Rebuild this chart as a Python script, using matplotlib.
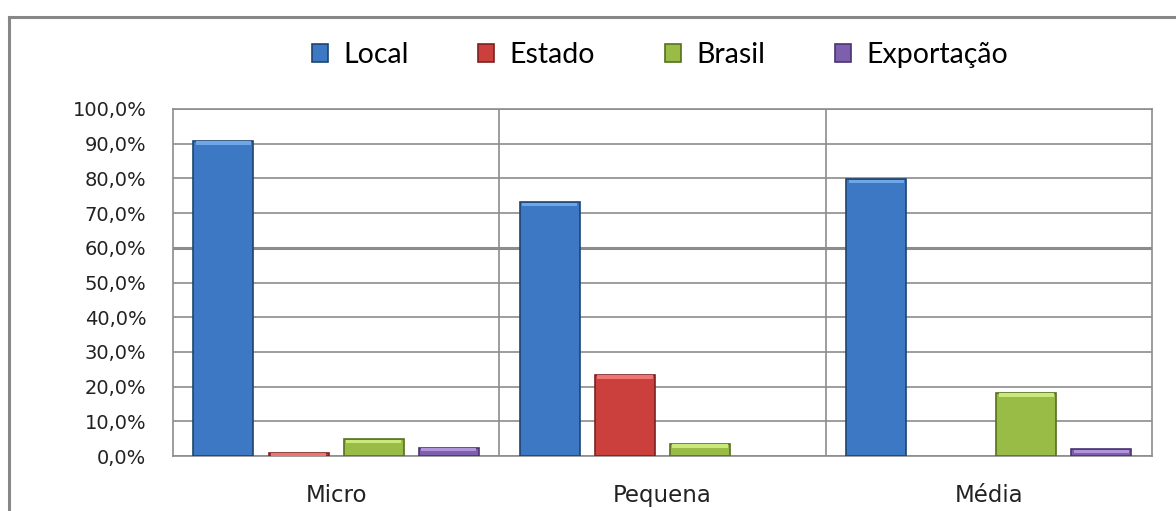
import matplotlib
matplotlib.use("Agg")
import matplotlib.pyplot as plt
from matplotlib.lines import Line2D
from matplotlib.ticker import FuncFormatter, MultipleLocator
import numpy as np

categories = ["Micro", "Pequena", "Média"]
series_names = ["Local", "Estado", "Brasil", "Exportação"]
local = [90.7, 73.1, 79.7]
estado = [0.8, 23.3, 0.0]
brasil = [4.8, 3.4, 18.1]
exportacao = [2.4, 0.0, 1.9]

colors = ["#3C78C3", "#CB3F3C", "#98BC46", "#7E5FAE"]
edges = ["#1E4470", "#7A2220", "#56701E", "#4A3470"]
highlights = ["#6FA6E8", "#F07472", "#C9EA7A", "#B095DC"]

fig = plt.figure(figsize=(11.76, 5.11), dpi=100)
ax = fig.add_axes([0.147, 0.1076, 0.8326, 0.6791])

x = np.arange(len(categories))
step, width = 0.23, 0.184
series = [local, estado, brasil, exportacao]
handles = []
for i, (name, vals) in enumerate(zip(series_names, series)):
    pos = x + (i - 1.5) * step
    vals = np.array(vals)
    lw = np.where(vals > 0, 1.2, 0.0)
    b = ax.bar(pos, vals, width, color=colors[i], edgecolor=edges[i],
               linewidth=lw, zorder=3, label=name)
    # bevel highlight along the top of each bar
    hl = np.minimum(vals, 1.0)
    ax.bar(pos, hl, width * 0.92, bottom=vals - hl * 1.05,
           color=highlights[i], linewidth=0, zorder=4)
    handles.append(b)

ax.set_xlim(-0.5, 2.5)
ax.set_ylim(0, 100)
ax.yaxis.set_major_locator(MultipleLocator(10))
ax.yaxis.set_major_formatter(FuncFormatter(lambda v, p: f"{v:.1f}%".replace(".", ",")))
ax.set_xticks(x)
ax.set_xticklabels(categories)

grid_c = "#8C8C8C"
ax.grid(axis="y", color=grid_c, linewidth=1.2, zorder=0)
ax.axhline(60, color=grid_c, linewidth=2.2, zorder=1)
for xv in [0.5, 1.5]:
    ax.axvline(xv, color=grid_c, linewidth=1.2, zorder=1)
for s in ax.spines.values():
    s.set_color(grid_c)
    s.set_linewidth(1.2)

ax.tick_params(axis="y", length=0, pad=19, labelsize=14, labelcolor="#222222")
ax.tick_params(axis="x", length=0, pad=20, labelsize=16.5, labelcolor="#222222")
for t in ax.get_yticklabels() + ax.get_xticklabels():
    t.set_family("DejaVu Sans")

leg = fig.legend(handles=handles, labels=series_names, ncol=4, loc="center",
                 bbox_to_anchor=(660 / 1176, 1 - 55 / 511), frameon=False,
                 prop={"family": "Lato", "size": 20.5}, handlelength=0.55,
                 handleheight=0.55, handletextpad=0.55, columnspacing=2.45)

# outer chart frame
frame_c = "#878787"
fig.add_artist(Line2D([9 / 1176, 9 / 1176], [0, 1 - 17 / 511], color=frame_c, lw=2.2,
                      transform=fig.transFigure))
fig.add_artist(Line2D([9 / 1176, 1], [1 - 17 / 511, 1 - 17 / 511], color=frame_c, lw=2.2,
                      transform=fig.transFigure))

fig.savefig("out.png", dpi=100)
plt.close(fig)
